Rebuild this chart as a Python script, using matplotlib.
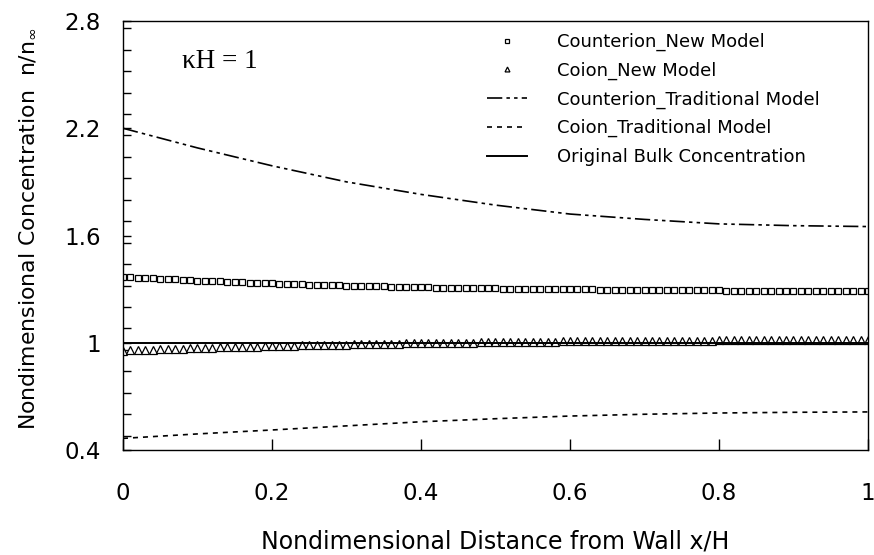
import numpy as np
import matplotlib
matplotlib.use("Agg")
import matplotlib.pyplot as plt
from matplotlib.ticker import MultipleLocator, FixedLocator

# distance from wall x/H used by the new-model markers
x_new = np.linspace(0, 1, 101)

# counterion, new model (squares)
counter_new = [
    1.370, 1.367, 1.365, 1.363, 1.360, 1.358, 1.356, 1.354, 1.352, 1.350,
    1.348, 1.346, 1.344, 1.343, 1.341, 1.339, 1.338, 1.336, 1.335, 1.333,
    1.332, 1.330, 1.329, 1.328, 1.326, 1.325, 1.324, 1.323, 1.322, 1.321,
    1.320, 1.319, 1.318, 1.317, 1.316, 1.315, 1.314, 1.313, 1.312, 1.311,
    1.311, 1.310, 1.309, 1.308, 1.308, 1.307, 1.306, 1.306, 1.305, 1.305,
    1.304, 1.303, 1.303, 1.302, 1.302, 1.301, 1.301, 1.300, 1.300, 1.299,
    1.299, 1.299, 1.298, 1.298, 1.297, 1.297, 1.297, 1.296, 1.296, 1.296,
    1.295, 1.295, 1.295, 1.295, 1.294, 1.294, 1.294, 1.293, 1.293, 1.293,
    1.293, 1.292, 1.292, 1.292, 1.292, 1.292, 1.291, 1.291, 1.291, 1.291,
    1.291, 1.290, 1.290, 1.290, 1.290, 1.290, 1.290, 1.290, 1.289, 1.289,
    1.289,
]

# coion, new model (triangles)
coion_new = [
    0.955, 0.957, 0.958, 0.960, 0.961, 0.963, 0.964, 0.966, 0.967, 0.969,
    0.970, 0.971, 0.972, 0.974, 0.975, 0.976, 0.977, 0.978, 0.979, 0.980,
    0.981, 0.982, 0.983, 0.984, 0.985, 0.986, 0.987, 0.988, 0.989, 0.990,
    0.990, 0.991, 0.992, 0.993, 0.993, 0.994, 0.995, 0.995, 0.996, 0.997,
    0.997, 0.998, 0.999, 0.999, 1.000, 1.000, 1.001, 1.001, 1.002, 1.002,
    1.003, 1.003, 1.004, 1.004, 1.005, 1.005, 1.005, 1.006, 1.006, 1.007,
    1.007, 1.007, 1.008, 1.008, 1.008, 1.009, 1.009, 1.009, 1.010, 1.010,
    1.010, 1.010, 1.011, 1.011, 1.011, 1.011, 1.012, 1.012, 1.012, 1.012,
    1.013, 1.013, 1.013, 1.013, 1.013, 1.014, 1.014, 1.014, 1.014, 1.014,
    1.015, 1.015, 1.015, 1.015, 1.015, 1.015, 1.016, 1.016, 1.016, 1.016,
    1.016,
]

# traditional model curves
x_trad = [0.0, 0.1, 0.2, 0.3, 0.4, 0.5, 0.6, 0.7, 0.8, 0.9, 1.0]
counter_trad = [2.20, 2.09, 1.99, 1.90, 1.83, 1.77, 1.72, 1.69, 1.665, 1.655, 1.65]
coion_trad = [0.465, 0.49, 0.512, 0.535, 0.558, 0.575, 0.59, 0.60, 0.607, 0.611, 0.613]

# original bulk concentration
x_bulk = [0.0, 1.0]
bulk = [1.0, 1.0]

xticks = [0, 0.2, 0.4, 0.6, 0.8, 1.0]
xtick_labels = ['0', '0.2', '0.4', '0.6', '0.8', '1']
yticks = [0.4, 1.0, 1.6, 2.2, 2.8]
ytick_labels = ['0.4', '1', '1.6', '2.2', '2.8']

plt.rcParams['font.family'] = ['DejaVu Sans']
plt.rcParams['lines.scale_dashes'] = False

fig = plt.figure(figsize=(8.74, 5.55), dpi=100)
ax = fig.add_axes([123/874, 1-450/555, 745/874, 429/555])

ax.plot(x_new, counter_new, ls='none', marker='s', ms=4.8, mfc='white', mec='black', mew=0.9,
        label='Counterion_New Model')
ax.plot(x_new, coion_new, ls='none', marker='^', ms=5.4, mfc='white', mec='black', mew=0.9,
        label='Coion_New Model')
ax.plot(x_trad, counter_trad, color='black', lw=1.2, dashes=(11, 3, 2.5, 3, 2.5, 3),
        label='Counterion_Traditional Model')
ax.plot(x_trad, coion_trad, color='black', lw=1.2, dashes=(3.6, 3.6),
        label='Coion_Traditional Model')
ax.plot(x_bulk, bulk, color='black', lw=1.4, label='Original Bulk Concentration')

ax.set_xlim(0, 1)
ax.set_ylim(0.4, 2.8)
ax.xaxis.set_major_locator(FixedLocator(xticks))
ax.yaxis.set_major_locator(FixedLocator(yticks))
ax.yaxis.set_minor_locator(MultipleLocator(0.12))
ax.set_xticklabels(xtick_labels)
ax.set_yticklabels(ytick_labels)
ax.tick_params(axis='x', direction='in', length=8, width=1, labelsize=16.5, pad=23)
ax.tick_params(axis='y', which='both', direction='in', length=6, width=1, labelsize=16.5, pad=16)
for s in ax.spines.values():
    s.set_linewidth(1)

ax.set_xlabel('Nondimensional Distance from Wall x/H', fontsize=17)
ax.xaxis.set_label_coords(0.5, -0.186)
ax.set_ylabel(r'Nondimensional Concentration  n/n$_{\infty}$', fontsize=15.8)
ax.yaxis.set_label_coords(-0.115, 0.515)

ax.text(0.079, 0.89, 'κH = 1', transform=ax.transAxes, fontsize=19.5,
        family='Liberation Serif', va='baseline')

ax.legend(loc='upper left', bbox_to_anchor=(487/874, 1-33/555), bbox_transform=fig.transFigure,
          frameon=False, fontsize=13, handlelength=2.2, handletextpad=1.66,
          labelspacing=0.58, borderpad=0, borderaxespad=0, markerscale=0.65)

fig.savefig('out.png', dpi=100)
